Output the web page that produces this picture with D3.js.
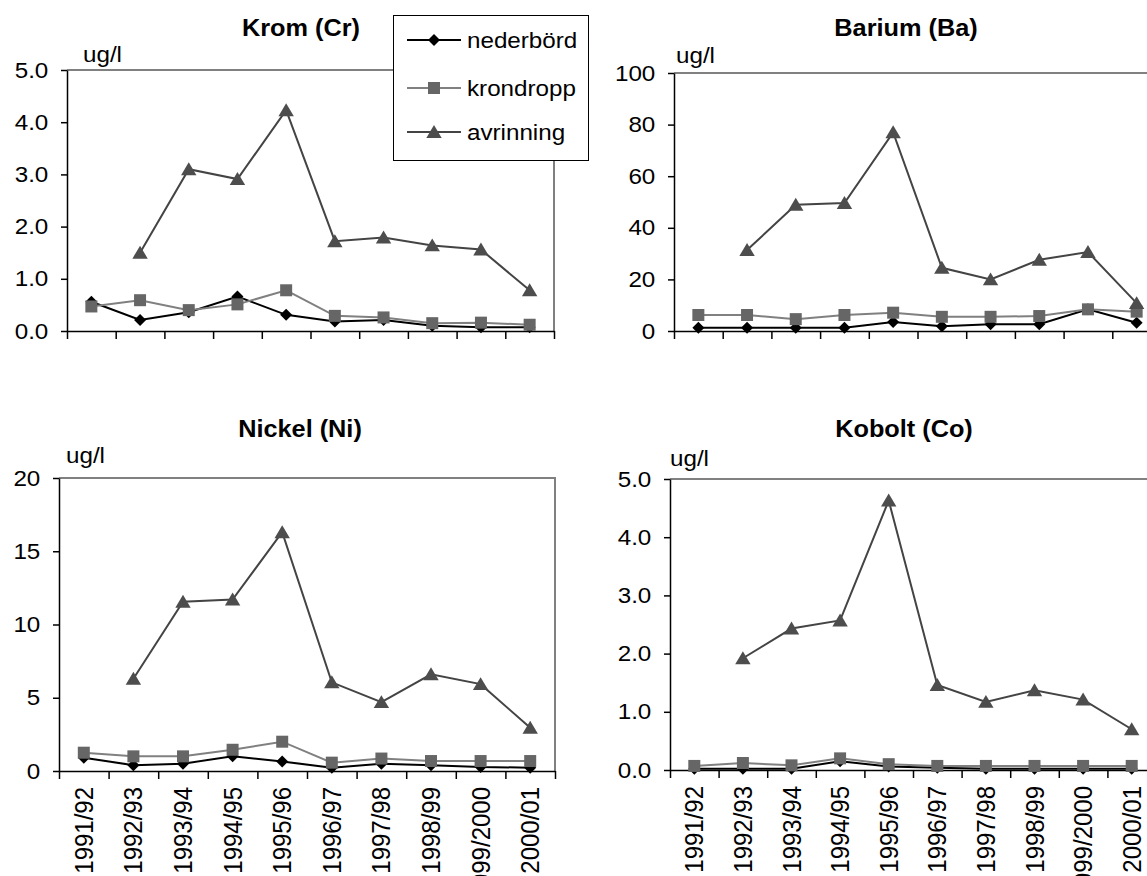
<!DOCTYPE html>
<html>
<head>
<meta charset="utf-8">
<script src="https://cdn.jsdelivr.net/npm/d3@7"></script>
<style>
  body { margin: 0; background: #fff; }
  svg { display: block; }
</style>
</head>
<body>
<script>
// categories (season)
var categories = ["1991/92", "1992/93", "1993/94", "1994/95", "1995/96",
  "1996/97", "1997/98", "1998/99", "1999/2000", "2000/01"];

var seriesNames = ["nederbörd", "krondropp", "avrinning"];

// Krom (Cr), ug/l
var kromNederbord = [0.56, 0.21, 0.36, 0.66, 0.31, 0.18, 0.21, 0.10, 0.07, 0.07];
var kromKrondropp = [0.47, 0.59, 0.40, 0.51, 0.78, 0.29, 0.26, 0.15, 0.16, 0.12];
var kromAvrinning = [null, 1.50, 3.10, 2.91, 4.23, 1.72, 1.79, 1.64, 1.56, 0.78];

// Barium (Ba), ug/l
var bariumNederbord = [1.3, 1.3, 1.3, 1.3, 3.5, 1.8, 2.6, 2.6, 8.4, 3.2];
var bariumKrondropp = [6.2, 6.2, 4.6, 6.2, 7.1, 5.5, 5.5, 5.8, 8.4, 7.5];
var bariumAvrinning = [null, 31.4, 48.9, 49.6, 77.0, 24.5, 20.0, 27.6, 30.6, 10.8];

// Nickel (Ni), ug/l
var nickelNederbord = [0.9, 0.4, 0.5, 1.0, 0.65, 0.23, 0.5, 0.4, 0.27, 0.23];
var nickelKrondropp = [1.25, 1.0, 1.0, 1.45, 2.0, 0.57, 0.85, 0.68, 0.68, 0.68];
var nickelAvrinning = [null, 6.3, 11.55, 11.7, 16.3, 6.05, 4.7, 6.6, 5.93, 2.95];

// Kobolt (Co), ug/l
var koboltNederbord = [0.02, 0.02, 0.02, 0.15, 0.06, 0.04, 0.02, 0.02, 0.02, 0.02];
var koboltKrondropp = [0.07, 0.12, 0.08, 0.20, 0.10, 0.07, 0.07, 0.07, 0.07, 0.07];
var koboltAvrinning = [null, 1.92, 2.43, 2.57, 4.63, 1.46, 1.17, 1.37, 1.21, 0.70];

var width = 1147;
var height = 876;
var stretch = 1.1; // the original text is a bit wide

var styles = [
  { line: "#000000", width: 2, fill: "#000000", shape: "diamond", size: 6 },
  { line: "#808080", width: 2, fill: "#666666", shape: "square", size: 6 },
  { line: "#444444", width: 2, fill: "#4d4d4d", shape: "triangle", size: 7 }
];

var charts = [
  { title: "Krom (Cr)", series: [kromNederbord, kromKrondropp, kromAvrinning],
    left: 67, right: 554, top: 70, bottom: 331, max: 5, step: 1, fmt: ".1f",
    labels: false, titleX: 301, titleY: 36, unitX: 83, unitY: 62 },
  { title: "Barium (Ba)", series: [bariumNederbord, bariumKrondropp, bariumAvrinning],
    left: 674, right: 1161, top: 73, bottom: 331, max: 100, step: 20, fmt: "d",
    labels: false, titleX: 906, titleY: 36, unitX: 676, unitY: 63 },
  { title: "Nickel (Ni)", series: [nickelNederbord, nickelKrondropp, nickelAvrinning],
    left: 59, right: 555, top: 478, bottom: 771, max: 20, step: 5, fmt: "d",
    labels: true, titleX: 300, titleY: 437, unitX: 66, unitY: 463 },
  { title: "Kobolt (Co)", series: [koboltNederbord, koboltKrondropp, koboltAvrinning],
    left: 670, right: 1156, top: 479, bottom: 770, max: 5, step: 1, fmt: ".1f",
    labels: true, titleX: 904, titleY: 437, unitX: 670, unitY: 466 }
];

var svg = d3.select("body")
  .append("svg")
  .attr("width", width)
  .attr("height", height)
  .style("font-family", "'Liberation Sans', Arial, sans-serif");

var addText = function (g, x, y, txt, size, weight, anchor) {
  return g.append("text")
    .attr("transform", "translate(" + x + "," + y + ") scale(" + stretch + ",1)")
    .attr("text-anchor", anchor || "start")
    .style("font-size", size + "px")
    .style("font-weight", weight || "normal")
    .style("fill", "#000")
    .text(txt);
};

var markerPath = function (shape, s) {
  if (shape === "diamond") {
    return "M0," + (-s) + "L" + s + ",0L0," + s + "L" + (-s) + ",0Z";
  } else if (shape === "square") {
    return "M" + (-s) + "," + (-s) + "H" + s + "V" + s + "H" + (-s) + "Z";
  }
  return "M0," + (-s) + "L" + (s * 1.1) + "," + (s * 0.85) + "L" + (-s * 1.1) + "," + (s * 0.85) + "Z";
};

var drawChart = function (c) {
  var g = svg.append("g");

  var x = d3.scaleBand().domain(categories).range([c.left, c.right]);
  var xEdge = d3.scaleLinear().domain([0, categories.length]).range([c.left, c.right]);
  var y = d3.scaleLinear().domain([0, c.max]).range([c.bottom, c.top]);
  var cx = function (i) { return x(categories[i]) + x.bandwidth() / 2; };

  // plot frame (top and right in grey)
  g.append("path")
    .attr("d", "M" + c.left + "," + y(c.max) + "H" + c.right + "V" + y(0))
    .attr("fill", "none")
    .attr("stroke", "#808080")
    .attr("stroke-width", 2);

  // y axis
  var yAxis = g.append("g")
    .attr("transform", "translate(" + c.left + ",0)")
    .call(d3.axisLeft(y)
      .tickValues(d3.range(0, c.max + c.step / 2, c.step))
      .tickFormat(d3.format(c.fmt))
      .tickSize(6)
      .tickSizeOuter(0)
      .tickPadding(11));
  yAxis.select(".domain").attr("stroke", "#000").attr("stroke-width", 1.5);
  yAxis.selectAll(".tick line").attr("stroke", "#000").attr("stroke-width", 1.5);
  yAxis.selectAll(".tick text")
    .attr("transform", "scale(" + stretch + ",1)")
    .style("font-size", "22px")
    .style("font-family", "'Liberation Sans', Arial, sans-serif")
    .attr("fill", "#000");

  // x axis: ticks between categories
  var xAxis = g.append("g")
    .attr("transform", "translate(0," + c.bottom + ")")
    .call(d3.axisBottom(xEdge)
      .tickValues(d3.range(0, categories.length + 1))
      .tickFormat("")
      .tickSize(8)
      .tickSizeOuter(0));
  xAxis.select(".domain").attr("stroke", "#000").attr("stroke-width", 1.5);
  xAxis.selectAll(".tick line").attr("stroke", "#000").attr("stroke-width", 1.5);

  if (c.labels) {
    g.append("g")
      .selectAll("text")
      .data(categories)
      .enter()
      .append("text")
      .attr("transform", function (d, i) {
        return "translate(" + cx(i) + "," + (c.bottom + 16) + ") rotate(-90) scale(1,1.05)";
      })
      .attr("dy", "0.36em")
      .attr("text-anchor", "end")
      .style("font-size", "24px")
      .text(function (d) { return d; });
  }

  // series
  c.series.forEach(function (vals, si) {
    var st = styles[si];
    var pts = vals.map(function (v, i) { return { i: i, v: v }; });
    var line = d3.line()
      .defined(function (d) { return d.v !== null; })
      .x(function (d) { return cx(d.i); })
      .y(function (d) { return y(d.v); });

    g.append("path")
      .datum(pts)
      .attr("d", line)
      .attr("fill", "none")
      .attr("stroke", st.line)
      .attr("stroke-width", st.width);

    g.append("g")
      .selectAll("path")
      .data(pts.filter(function (d) { return d.v !== null; }))
      .enter()
      .append("path")
      .attr("transform", function (d) { return "translate(" + cx(d.i) + "," + y(d.v) + ")"; })
      .attr("d", markerPath(st.shape, st.size))
      .attr("fill", st.fill);
  });

  addText(g, c.titleX, c.titleY, c.title, 23, "bold", "middle");
  addText(g, c.unitX, c.unitY, "ug/l", 22);
};

var drawLegend = function () {
  var lg = svg.append("g");
  lg.append("rect")
    .attr("x", 393.5)
    .attr("y", 15.5)
    .attr("width", 195)
    .attr("height", 145)
    .attr("fill", "#fff")
    .attr("stroke", "#000")
    .attr("stroke-width", 1);

  var rows = [40, 88, 132];
  seriesNames.forEach(function (name, i) {
    var st = styles[i];
    lg.append("line")
      .attr("x1", 407).attr("x2", 461)
      .attr("y1", rows[i]).attr("y2", rows[i])
      .attr("stroke", st.line)
      .attr("stroke-width", st.width);
    lg.append("path")
      .attr("transform", "translate(434," + rows[i] + ")")
      .attr("d", markerPath(st.shape, st.size))
      .attr("fill", st.fill);
    addText(lg, 467, rows[i] + 8, name, 22);
  });
};

charts.forEach(drawChart);
drawLegend();
</script>
</body>
</html>
